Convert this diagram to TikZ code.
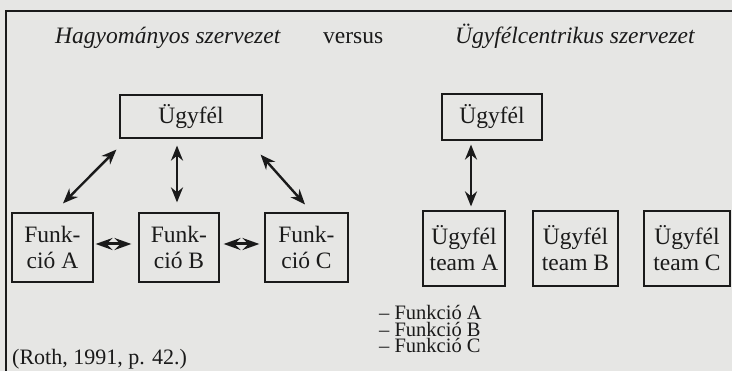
\documentclass[tikz,border=0pt]{standalone}
\usepackage{fontspec}
\setmainfont{Liberation Serif}
\usetikzlibrary{arrows.meta}
\definecolor{paper}{HTML}{E6E6E4}
\definecolor{ink}{HTML}{1A1A1A}
\tikzset{
  box/.style={draw=ink, line width=1.2pt, text=ink, inner sep=0pt, align=center,
    font=\fontsize{23.5}{26}\selectfont},
  dbl/.style={draw=ink, line width=2.4pt, {Stealth[length=15pt,width=12pt]}-{Stealth[length=15pt,width=12pt]}},
  hbl/.style={draw=ink, line width=3pt, {Stealth[length=17pt,width=12pt,inset=6pt]}-{Stealth[length=17pt,width=12pt,inset=6pt]}},
  lbl/.style={text=ink, inner sep=0pt, anchor=base west},
  fn/.style={lbl, font=\fontsize{20.5}{20}\selectfont},
}
\begin{document}
\begin{tikzpicture}[x=1pt,y=-1pt]
\useasboundingbox (0,0) rectangle (732,371);
\fill[paper] (0,0) rectangle (732,371);
\coordinate (fbl) at (6,371);
\coordinate (ftl) at (6,11);
\coordinate (ftr) at (732,11);
\draw[ink, line width=1.3pt] (fbl) -- (ftl) -- (ftr);

\node[lbl, font=\fontsize{23.5}{26}\selectfont\itshape] (t1) at (55,44) {Hagyományos szervezet};
\node[lbl, font=\fontsize{23.5}{26}\selectfont] (vs) at (323,44) {versus};
\node[lbl, font=\fontsize{23.5}{26}\selectfont\itshape] (t2) at (455,44) {Ügyfélcentrikus szervezet};

\node[box, minimum width=142pt, minimum height=43pt] (UL) at (191,116.5) {Ügyfél};
\node[box, minimum width=81pt, minimum height=69pt] (FA) at (52.5,247.5) {Funk-\\ció A};
\node[box, minimum width=80pt, minimum height=69pt] (FB) at (179,247.5) {Funk-\\ció B};
\node[box, minimum width=83pt, minimum height=69pt] (FC) at (306.5,247.5) {Funk-\\ció C};

\draw[dbl] ([xshift=-3pt,yshift=-11pt]UL.south west) -- ([xshift=10.5pt,yshift=9pt]FA.north);
\draw[dbl] ([xshift=-14pt,yshift=-7pt]UL.south) -- ([xshift=-2pt,yshift=10pt]FB.north);
\draw[dbl] ([xshift=-2pt,yshift=-16pt]UL.south east) -- ([xshift=-1.5pt,yshift=8pt]FC.north);
\draw[hbl] ([xshift=2pt,yshift=3.5pt]FA.east) -- ([xshift=-7pt,yshift=3.5pt]FB.west);
\draw[hbl] ([xshift=4pt,yshift=3.5pt]FB.east) -- ([xshift=-5pt,yshift=3.5pt]FC.west);

\node[box, minimum width=100pt, minimum height=46pt] (UR) at (492,117) {Ügyfél};
\node[box, minimum width=82pt, minimum height=75pt] (TA) at (464,248.5) {Ügyfél\\team A};
\node[box, minimum width=85pt, minimum height=75pt] (TB) at (575.5,248.5) {Ügyfél\\team B};
\node[box, minimum width=86pt, minimum height=75pt] (TC) at (687,248.5) {Ügyfél\\team C};
\draw[dbl] ([xshift=-21pt,yshift=-4pt]UR.south) -- ([xshift=7pt,yshift=4pt]TA.north);

\node[fn] (f1) at (379,320) {– Funkció A};
\node[fn] (f2) at (379,336.5) {– Funkció B};
\node[fn] (f3) at (379,353) {– Funkció C};
\node[lbl, font=\fontsize{22}{26}\selectfont] (src) at (12,365) {(Roth, 1991, p. 42.)};
\end{tikzpicture}
\end{document}
